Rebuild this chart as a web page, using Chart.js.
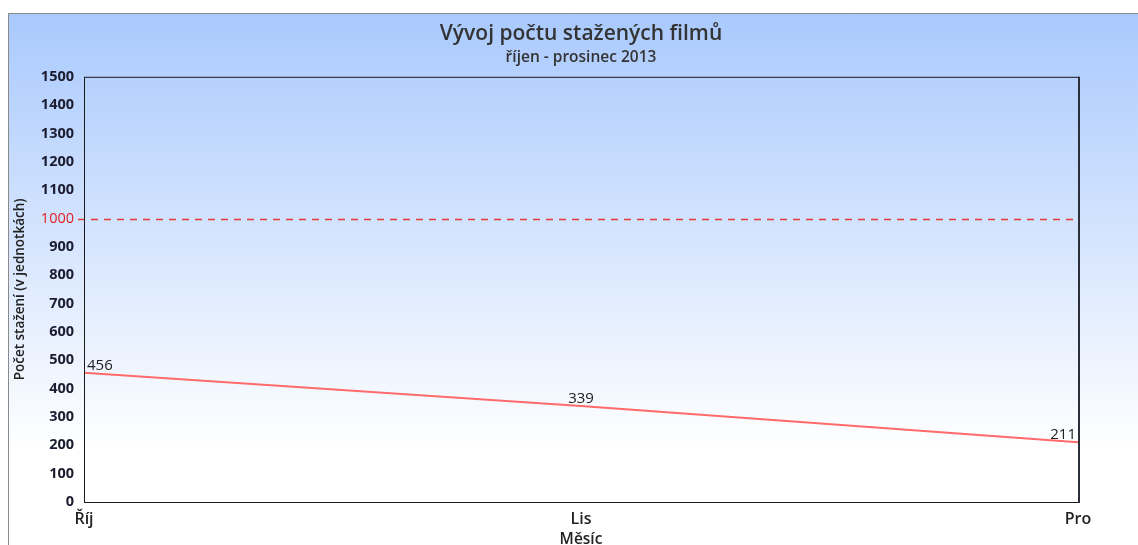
<!DOCTYPE html>
<html lang="cs">
<head>
    <meta charset="UTF-8">
    <title>Vývoj počtu stažených filmů</title>
    <script src="https://cdn.jsdelivr.net/npm/chart.js"></script>
    <style>
        html, body { margin: 0; padding: 0; overflow: hidden; background: #fff; }
        .chart-container { position: relative; width: 1138px; height: 550px; }
    </style>
</head>
<body>
    <div class="chart-container">
        <canvas id="downloadsChart"></canvas>
    </div>

    <script>
        // Data
        const months = ['Říj', 'Lis', 'Pro'];
        const downloads = [456, 339, 211];
        const yTicksMin = 0;
        const yTicksMax = 1500;
        const yTicksStep = 100;
        const limitValue = 1000;

        const fontFamily = '"Open Sans", "Noto Sans", sans-serif';

        // Pozadí s přechodem, limitní čára, rámeček a popisky hodnot
        const backgroundPlugin = {
            id: 'bgFrame',
            beforeDraw(chart) {
                const ctx = chart.ctx;
                const grad = ctx.createLinearGradient(0, 13, 0, 450);
                grad.addColorStop(0, '#a9c9fd');
                grad.addColorStop(1, '#ffffff');
                ctx.save();
                ctx.fillStyle = grad;
                ctx.fillRect(8, 13, chart.width - 8, chart.height - 13);
                ctx.strokeStyle = '#8a8a8a';
                ctx.lineWidth = 1;
                ctx.beginPath();
                ctx.moveTo(8.5, chart.height);
                ctx.lineTo(8.5, 13.5);
                ctx.lineTo(chart.width, 13.5);
                ctx.stroke();
                ctx.restore();
            },
            beforeDatasetsDraw(chart) {
                const {ctx, chartArea, scales} = chart;
                const y = Math.round(scales.y.getPixelForValue(limitValue)) + 0.5;
                ctx.save();
                ctx.strokeStyle = '#e33b3b';
                ctx.lineWidth = 1.5;
                ctx.setLineDash([7, 6]);
                ctx.beginPath();
                ctx.moveTo(chartArea.left - 6, y);
                ctx.lineTo(chartArea.right, y);
                ctx.stroke();
                ctx.restore();
            },
            afterDatasetsDraw(chart) {
                const {ctx, chartArea} = chart;
                ctx.save();
                ctx.strokeStyle = '#1a1a1a';
                ctx.lineWidth = 1;
                ctx.strokeRect(chartArea.left + 0.5, chartArea.top + 0.5,
                    chartArea.right - chartArea.left, chartArea.bottom - chartArea.top);
                // pravý okraj je o něco silnější
                ctx.lineWidth = 2;
                ctx.strokeStyle = '#2a2f3a';
                ctx.beginPath();
                ctx.moveTo(chartArea.right + 1, chartArea.top);
                ctx.lineTo(chartArea.right + 1, chartArea.bottom + 1);
                ctx.stroke();
                // popisky hodnot
                const meta = chart.getDatasetMeta(0);
                ctx.fillStyle = '#222';
                ctx.font = '15px ' + fontFamily;
                ctx.textBaseline = 'bottom';
                meta.data.forEach((pt, i) => {
                    let align = 'center';
                    let x = pt.x;
                    if (i === 0) { align = 'left'; x += 3; }
                    if (i === meta.data.length - 1) { align = 'right'; x -= 2; }
                    ctx.textAlign = align;
                    ctx.fillText(String(downloads[i]), x, pt.y);
                });
                ctx.restore();
            }
        };

        const ctx = document.getElementById('downloadsChart').getContext('2d');
        new Chart(ctx, {
            type: 'line',
            data: {
                labels: months,
                datasets: [{
                    label: 'Počet stažení',
                    data: downloads,
                    borderColor: '#ff6b6b',
                    borderWidth: 2,
                    pointRadius: 0,
                    tension: 0,
                    fill: false
                }]
            },
            options: {
                responsive: true,
                maintainAspectRatio: false,
                animation: false,
                layout: {
                    padding: { top: 13, left: 8, right: 60, bottom: 0 }
                },
                scales: {
                    x: {
                        offset: false,
                        grid: { display: false },
                        border: { display: false },
                        afterFit(scale) { scale.height = 48; },
                        ticks: {
                            padding: 0,
                            color: '#222',
                            maxRotation: 0,
                            font: { family: fontFamily, size: 16, weight: '600' }
                        },
                        title: {
                            display: true,
                            text: 'Měsíc',
                            color: '#222',
                            padding: { top: 0, bottom: 1 },
                            font: { family: fontFamily, size: 15.5, weight: '600' }
                        }
                    },
                    y: {
                        min: yTicksMin,
                        max: yTicksMax,
                        grid: { display: false },
                        border: { display: false },
                        afterFit(scale) { scale.width = 76; },
                        ticks: {
                            stepSize: yTicksStep,
                            padding: 2,
                            callback: (v) => String(v),
                            color: (c) => c.tick && c.tick.value === limitValue ? '#e02020' : '#1c1c30',
                            font: (c) => ({
                                family: fontFamily,
                                size: 14.5,
                                weight: c.tick && c.tick.value === limitValue ? '400' : '700'
                            })
                        },
                        title: {
                            display: true,
                            text: 'Počet stažení (v jednotkách)',
                            color: '#222',
                            padding: { top: 4, bottom: 0 },
                            font: { family: fontFamily, size: 13.5, weight: '600' }
                        }
                    }
                },
                plugins: {
                    legend: { display: false },
                    tooltip: { enabled: false },
                    title: {
                        display: true,
                        fullSize: false,
                        text: 'Vývoj počtu stažených filmů',
                        color: '#333',
                        padding: { top: 8, bottom: 0 },
                        font: { family: fontFamily, size: 21, weight: '600' }
                    },
                    subtitle: {
                        display: true,
                        fullSize: false,
                        text: 'říjen - prosinec 2013',
                        color: '#333',
                        padding: { top: 2, bottom: 10 },
                        font: { family: fontFamily, size: 15.5, weight: '600' }
                    }
                }
            },
            plugins: [backgroundPlugin]
        });
    </script>
</body>
</html>
